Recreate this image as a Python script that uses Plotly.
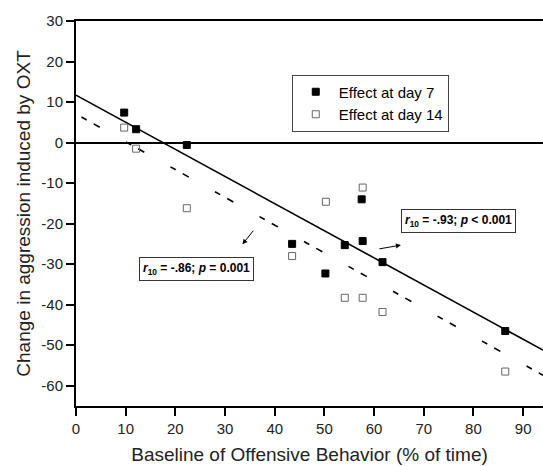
import plotly.graph_objects as go

# Data
baseline_day7 = [9.7, 12.1, 22.3, 43.5, 50.2, 54.1, 57.7, 57.5, 61.7, 86.4]
effect_day7 = [7.4, 3.3, -0.6, -25.0, -32.3, -25.3, -24.3, -14.0, -29.5, -46.5]
baseline_day14 = [9.7, 12.1, 22.3, 43.5, 50.3, 57.7, 54.1, 57.7, 61.7, 86.4]
effect_day14 = [3.7, -1.5, -16.2, -28.0, -14.6, -11.1, -38.3, -38.3, -41.8, -56.5]

# regression line end points
fit7_x = [0, 94]
fit7_y = [11.7, -51.2]
fit14_x = [1.1, 94]
fit14_y = [6.3, -57.4]

x_ticks = [0, 10, 20, 30, 40, 50, 60, 70, 80, 90]
y_ticks = [30, 20, 10, 0, -10, -20, -30, -40, -50, -60]

font_family = "Liberation Sans, Arial, sans-serif"

fig = go.Figure()

fig.add_trace(go.Scatter(x=fit7_x, y=fit7_y, mode='lines',
                         line=dict(color='black', width=1.6),
                         showlegend=False, hoverinfo='skip'))
fig.add_trace(go.Scatter(x=fit14_x, y=fit14_y, mode='lines',
                         line=dict(color='black', width=1.6, dash='6px,8px,7px,30px'),
                         showlegend=False, hoverinfo='skip'))

fig.add_trace(go.Scatter(x=baseline_day7, y=effect_day7, mode='markers',
                         name='Effect at day 7',
                         marker=dict(symbol='square', size=7, color='black',
                                     line=dict(color='black', width=1))))
fig.add_trace(go.Scatter(x=baseline_day14, y=effect_day14, mode='markers',
                         name='Effect at day 14',
                         marker=dict(symbol='square-open', size=7, color='#666666',
                                     line=dict(width=1))))

box_style = dict(font=dict(family=font_family, size=12, color='black'),
                 bordercolor='#333333', borderwidth=1, borderpad=3,
                 bgcolor='white', showarrow=False, xref='x', yref='y')

fig.add_annotation(x=76.9, y=-19.3,
                   text='<b><i>r</i><sub>10</sub> = -.93; <i>p</i> &lt; 0.001</b>',
                   **box_style)
fig.add_annotation(x=24.3, y=-31.1,
                   text='<b><i>r</i><sub>10</sub> = -.86; <i>p</i> = 0.001</b>',
                   **box_style)

# arrows pointing at the two regression lines
fig.add_annotation(x=33.5, y=-25.1, ax=12, ay=-15, axref='pixel', ayref='pixel',
                   text='', showarrow=True, arrowhead=2, arrowsize=1,
                   arrowwidth=1, arrowcolor='black')
fig.add_annotation(x=65.4, y=-25.3, ax=-23, ay=4, axref='pixel', ayref='pixel',
                   text='', showarrow=True, arrowhead=2, arrowsize=1,
                   arrowwidth=1, arrowcolor='black')

fig.update_layout(
    width=543, height=466,
    margin=dict(l=76, r=0, t=21, b=60),
    plot_bgcolor='white', paper_bgcolor='white',
    font=dict(family=font_family, size=15, color='#222222'),
    legend=dict(x=0.462, y=0.861, xanchor='left', yanchor='top',
                bordercolor='#444444', borderwidth=1, itemwidth=36,
                font=dict(size=15, color='black'), bgcolor='white'),
    xaxis=dict(range=[0, 94], tickvals=x_ticks, ticktext=[str(v) for v in x_ticks],
               showgrid=False, zeroline=False, automargin=False,
               showline=True, linecolor='black', linewidth=2, mirror=True,
               ticks='outside', ticklen=8, tickwidth=1.5, tickcolor='black',
               title=dict(text='Baseline of Offensive Behavior (% of time)',
                          font=dict(size=19), standoff=12)),
    yaxis=dict(range=[-65, 30], tickvals=y_ticks, ticktext=[str(v) for v in y_ticks],
               showgrid=False, automargin=False,
               zeroline=True, zerolinecolor='black', zerolinewidth=1.8,
               showline=True, linecolor='black', linewidth=2,
               ticks='outside', ticklen=8, tickwidth=1.5, tickcolor='black',
               title=dict(text='Change in aggression induced by OXT',
                          font=dict(size=19), standoff=6)),
)

# drop the default page margin so the figure sits at the window's corner
fig.write_html("out.html", config={'displayModeBar': False},
               post_script="document.body.style.margin='0px';")
